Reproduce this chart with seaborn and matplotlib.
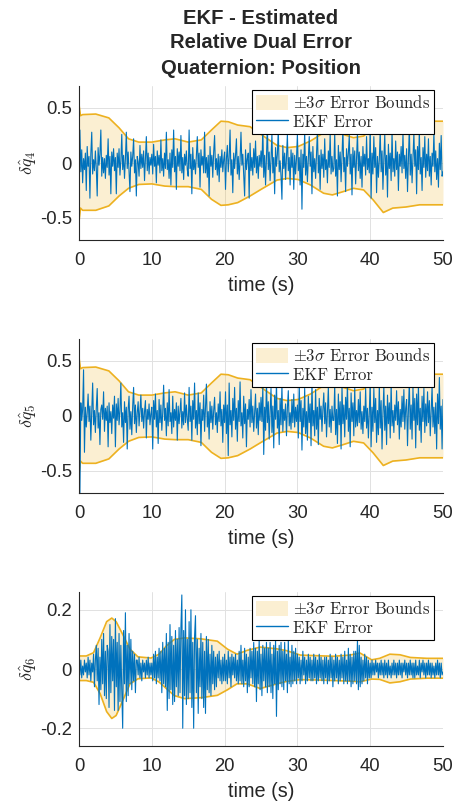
import numpy as np
import matplotlib
matplotlib.use("Agg")
import matplotlib.pyplot as plt
import seaborn as sns
from matplotlib.patches import Patch
from matplotlib.lines import Line2D

# ---------------- data ----------------
time_ticks = [0, 10, 20, 30, 40, 50]

# +/-3 sigma bounds for dq4 and dq5 (same covariance shape)
bound45_t = [0, 0.2, 0.5, 2.3, 4.1, 5.5, 6.8, 8.2, 10, 11.8, 13.2, 15, 16.8, 18.2,
             19.5, 20.5, 21.8, 23.5, 25, 27.2, 28.6, 30.1, 31.8, 33.6, 34.8, 36.3,
             37.7, 39.1, 40.4, 41.8, 43.1, 44.9, 46.8, 50]
bound45_upper = [0.53, 0.43, 0.44, 0.445, 0.41, 0.32, 0.22, 0.19, 0.19, 0.21, 0.22,
                 0.19, 0.21, 0.30, 0.38, 0.375, 0.345, 0.33, 0.26, 0.16, 0.14, 0.15,
                 0.20, 0.275, 0.29, 0.26, 0.23, 0.245, 0.335, 0.45, 0.41, 0.40, 0.38, 0.38]
bound45_lower = [-0.53, -0.41, -0.43, -0.43, -0.39, -0.30, -0.23, -0.195, -0.19, -0.21,
                 -0.215, -0.215, -0.24, -0.33, -0.385, -0.38, -0.36, -0.30, -0.24,
                 -0.155, -0.14, -0.15, -0.20, -0.275, -0.29, -0.26, -0.23, -0.245,
                 -0.335, -0.45, -0.41, -0.40, -0.38, -0.38]

# +/-3 sigma bounds for dq6
bound6_t = [0, 1, 2, 2.9, 3.8, 4.5, 5.1, 6, 7, 8.1, 9.9, 11, 12, 13.1, 14.5, 16.7,
            19, 20.4, 21.7, 23.1, 24.9, 27.2, 28.5, 30.4, 32.6, 35, 37.2, 38.6, 40.2,
            41.3, 42.7, 44.1, 45.5, 47.8, 50]
bound6_upper = [0.044, 0.044, 0.055, 0.105, 0.16, 0.172, 0.16, 0.117, 0.067, 0.041,
                0.037, 0.05, 0.078, 0.10, 0.105, 0.102, 0.094, 0.067, 0.05, 0.063,
                0.074, 0.068, 0.062, 0.047, 0.045, 0.043, 0.047, 0.054, 0.031, 0.036,
                0.05, 0.048, 0.039, 0.036, 0.036]
bound6_lower = [-0.039, -0.039, -0.045, -0.083, -0.144, -0.167, -0.157, -0.107, -0.05,
                -0.033, -0.03, -0.044, -0.066, -0.09, -0.10, -0.097, -0.089, -0.07,
                -0.05, -0.05, -0.066, -0.05, -0.042, -0.036, -0.037, -0.039, -0.041,
                -0.043, -0.034, -0.035, -0.047, -0.043, -0.034, -0.031, -0.031]

# EKF error, in units of 0.01, evenly sampled over 0..50 s (40 samples per 5 s row)
err_q4_x100 = [
    3, 30, -8, 12, -18, 4, -6, 9, -25, 15, -3, 6, -32, 8, 28, -10, 3, -7, 11, -5, -30, 14, -2, 8, 30, -12, 5, -9, 4, -14, 7, -4, 22, -11, 6, -28, 10, -3, 13, -7,
    5, -28, 9, -4, 13, -11, 2, 26, -6, 7, -14, 4, 28, -5, 10, -8, -26, 10, -3, 6, 22, -9, 3, -30, 6, 1, -12, 16, -5, 8, -4, 11, -16, 3, 24, -7, 9, -10, 5, -2,
    8, -10, 17, -3, 6, -18, 11, -2, 7, -9, 21, -7, 4, -12, 9, -5, 28, -6, 3, -14, 9, -20, 12, -4, 30, -8, 6, -24, 13, -3, 10, -7, 25, -9, 5, -15, 8, -2, 11, -6,
    -12, 30, -5, 8, -28, 14, -6, 3, -10, 7, 24, -4, 9, -22, 12, -2, 6, -9, 28, -9, 5, -13, 7, -30, 15, -3, 7, -13, 10, 25, -6, 4, -11, 8, -17, 6, -4, 12, -8, 3,
    10, -24, 4, 16, -8, 5, 30, -11, 3, -27, 9, -5, 7, 22, -10, 6, -15, 3, 28, -2, 8, -12, -30, 12, -6, 4, 9, -32, 18, -7, 5, -11, 13, -4, 20, -9, 6, -14, 7, -3,
    11, -4, 33, -13, 7, -20, 5, 35, -6, 10, -16, 3, 27, -9, 5, -28, 14, -3, 8, 31, -8, 2, -12, -33, 16, -5, 9, -15, 6, 26, -7, 5, -20, 12, -4, 9, -24, 7, -10, 4,
    26, -7, 5, -20, 12, -42, 8, -4, 29, -11, 6, -17, 4, 24, -3, 10, -28, 15, -8, 4, -14, 9, 30, -9, 7, -24, 12, -5, 8, -13, 22, -6, 3, -18, 11, -4, 27, -10, 6, -8,
    -5, 27, -12, 3, -30, 16, -6, 10, -17, 6, 32, -8, 5, -26, 13, -3, 9, 25, -10, 8, -29, 14, -4, 11, -19, 5, 28, -7, 10, -14, 6, -22, 15, -3, 8, -11, 24, -6, 4, -9,
    35, -32, 9, -10, 24, -4, 14, -27, 6, -13, 3, 30, -8, 11, -24, 4, 26, -11, 7, -31, 17, -5, 9, -16, 29, -8, 4, -12, 20, -6, 10, -25, 8, -3, 15, -9, 28, -5, 7, -14,
    13, -26, 5, 33, -11, 8, -18, 4, 27, -3, 12, -28, 15, -6, 30, -10, 5, -25, 14, -4, 24, -13, 8, -7, 22, -12, 6, -20, 9, -3, 28, -8, 11, -15, 4, -22, 18, -6, 25, -12,
    -8]

err_q5_x100 = [
    70, -70, 12, -4, 6, 42, -33, 8, -10, 3, 20, -5, 9, -22, 4, 30, -8, 5, -15, 7, 25, -11, 3, -26, 6, 10, -3, 22, -14, 7, -4, 9, -28, 12, -6, 4, -16, 10, -2, 18,
    -28, 11, -4, 16, -8, 5, 30, -10, 3, -24, 13, -6, 8, -30, 6, 18, -12, 4, -17, 9, 26, -7, 10, -15, 3, 13, -9, 5, 19, -5, 7, -11, 4, 14, -20, 6, -3, 11, -8, 2,
    8, -30, 14, -3, 20, -10, 5, -25, 15, -6, 10, -13, 3, 28, -4, 7, -18, 12, -9, 24, -5, 3, -16, 18, -10, 6, -4, 12, -22, 9, -7, 5, 16, -11, 4, -8, 21, -6, 10, -3,
    -13, 26, -5, 9, -22, 14, -3, 30, -11, 5, -17, 21, -7, 12, -27, 6, -4, 19, -14, 8, 29, -10, 4, -21, 13, -6, 9, -12, 5, 17, -8, 3, -15, 11, -5, 22, -9, 6, -24, 10,
    -6, 22, -16, 10, -36, 30, -8, 5, -19, 16, -4, 26, -12, 7, -23, 14, -5, 31, -9, 3, -20, 18, -7, 11, -28, 6, -3, 15, -10, 24, -6, 9, -14, 4, 20, -11, 7, -17, 12, -4,
    17, -5, 27, -35, 8, -13, 32, -6, 13, -21, 4, 25, -15, 9, -29, 19, -3, 30, -11, 5, -26, 16, -8, 28, -14, 6, -4, 11, -18, 7, 23, -9, 3, -12, 15, -6, 20, -10, 8, -5,
    10, -20, 29, -5, 14, -31, 7, -10, 25, -16, 4, -22, 18, -6, 11, -27, 31, -9, 5, -18, 24, -12, 8, -26, 16, -3, 9, -14, 6, 21, -7, 12, -19, 4, 26, -10, 6, -15, 9, -4,
    -4, 28, -17, 6, -25, 20, -8, 13, -30, 27, -7, 10, -19, 17, -3, 30, -14, 7, -28, 21, -5, 12, -18, 26, -10, 5, -9, 15, -6, 22, -12, 4, -16, 9, -5, 25, -11, 7, -20, 3,
    32, -28, 8, -14, 25, -6, 16, -24, 5, -17, 29, -11, 14, -30, 3, 27, -13, 9, -26, 19, -7, 12, -20, 30, -9, 5, -15, 10, -4, 23, -8, 13, -21, 6, -10, 18, -5, 24, -12, 7,
    15, -27, 6, 31, -12, 10, -21, 26, -4, 16, -29, 20, -8, 28, -13, 7, -24, 18, -5, 25, -15, 11, -9, 22, -6, 14, -18, 5, 27, -10, 8, -16, 12, -30, 20, -7, 35, -12, 9, -30,
    15]

err_q6_x100 = [
    4, -2, 3, -3, 1, -2, 3, -1,   2, -3, 4, -2, 3, -4, 2, -1,
    5, -6, 3, 8, -4, 7, -12, 4,   -7, 10, -5, 12, -9, 6, -10, 8,
    6, -13, 15, -8, 11, -4, 10, -14,   17, -6, 9, -14, 12, -11, 8, -7,
    -20, 13, -5, 19, -11, 8, -9, 12,   -5, 10, -7, 6, -4, 5, -8, 3,
    3, -2, 4, -3, 2, -4, 3, -1,   2, -3, 3, -2, 4, -3, 2, -2,
    2, -4, 5, -3, 6, -5, 4, -3,   7, -4, 6, -8, 9, -5, 7, -6,
    12, -14, 9, -10, 15, -7, 11, -12,   8, -11, 13, -6, 10, -9, 14, -8,
    14, 25, -20, 13, -9, 20, -12, 10,   -10, 16, -8, 20, -13, 9, -20, 11,
    18, -8, 10, -15, 7, -6, 12, -10,   9, -13, 6, -15, 11, -7, 10, -8,
    5, -9, 8, -5, 6, -7, 4, -6,   5, -3, 6, -4, 3, -5, 4, -4,
    5, -4, 3, -5, 6, -3, 4, -6,   5, -2, 4, -3, 5, -4, 3, -5,
    6, -4, 8, -5, 3, -6, 7, -4,   5, -8, 4, -6, 7, -3, 6, -5,
    9, -6, 7, -11, 6, -5, 10, -7,   5, -9, 8, -4, 7, -6, 9, -8,
    7, -6, 9, -8, 5, -10, 8, -5,   10, -16, 6, -7, 8, -5, 9, -6,
    6, -7, 9, -4, 5, -8, 10, -5,   4, -6, 8, -5, 6, -4, 7, -5,
    5, -3, 4, -5, 3, -4, 6, -2,   4, -5, 3, -4, 5, -3, 4, -4,
    3, -4, 5, -3, 4, -5, 3, -4,   5, -3, 4, -4, 3, -5, 4, -3,
    4, -5, 3, -4, 5, -3, 4, -6,   3, -4, 5, -3, 4, -5, 3, -4,
    5, -3, 4, -5, 6, -4, 3, -5,   7, -4, 5, -6, 4, -5, 6, -4,
    6, -5, 10, -7, 8, -6, 4, -5,   3, -4, 5, -3, 4, -5, 3, -3,
    2, -3, 3, -2, 2, -2, 3, -1,   2, -3, 2, -2, 3, -2, 2, -3,
    3, -2, 2, -3, 3, -2, 1, -3,   2, -2, 3, -2, 2, -3, 2, -2,
    3, -2, 2, -3, 2, -1, 3, -2,   2, -3, 2, -2, 3, -2, 2, -3,
    2, -3, 3, -2, 1, -2, 3, -3,   2, -1, 3, -2, 2, -3, 2, -2,
    3, -2, 2, -3, 2, -2, 1, -3,   2, -2, 3, -2, 2, -3, 2, -2,
    -1]

title_text = "EKF - Estimated\nRelative Dual Error\nQuaternion: Position"
ylabels = [r"$\delta\hat{q}_4$", r"$\delta\hat{q}_5$", r"$\delta\hat{q}_6$"]
legend_labels = [r"$\pm3\sigma$ Error Bounds", "EKF Error"]

# ---------------- style ----------------
BLUE = "#0072BD"
ORANGE = "#EDB120"
DARK = "#262626"

sns.set_theme(style="white")
plt.rcParams["font.family"] = ["Liberation Sans", "DejaVu Sans"]
plt.rcParams["mathtext.fontset"] = "cm"
plt.rcParams["axes.unicode_minus"] = False

fig = plt.figure(figsize=(4.56, 8.02), dpi=100)

left, width, height = 79 / 456, 364 / 456, 154 / 802
panel_tops = [86, 339, 592]

panels = [
    (bound45_t, bound45_upper, bound45_lower, err_q4_x100, (-0.7, 0.7), [-0.5, 0, 0.5], ["-0.5", "0", "0.5"]),
    (bound45_t, bound45_upper, bound45_lower, err_q5_x100, (-0.7, 0.7), [-0.5, 0, 0.5], ["-0.5", "0", "0.5"]),
    (bound6_t, bound6_upper, bound6_lower, err_q6_x100, (-0.26, 0.26), [-0.2, 0, 0.2], ["-0.2", "0", "0.2"]),
]

for i, (bt, bu, bl, err_x100, ylim, yt, ytl) in enumerate(panels):
    err = np.asarray(err_x100, dtype=float) / 100.0
    t = np.linspace(0, 50, len(err))
    top = panel_tops[i]
    ax = fig.add_axes([left, 1 - (top + 154) / 802, width, height])
    ax.set_axisbelow(True)
    ax.grid(True, color="#e1e1e1", lw=0.7)
    ax.fill_between(bt, bl, bu, color=ORANGE, alpha=0.2, lw=0)
    sns.lineplot(x=bt, y=bu, color=ORANGE, lw=1.2, ax=ax)
    sns.lineplot(x=bt, y=bl, color=ORANGE, lw=1.2, ax=ax)
    sns.lineplot(x=t, y=err, color=BLUE, lw=0.8, ax=ax)

    ax.set_xlim(0, 50)
    ax.set_ylim(*ylim)
    ax.set_xticks(time_ticks)
    ax.set_xticklabels([str(v) for v in time_ticks])
    ax.set_yticks(yt)
    ax.set_yticklabels(ytl)
    for s in ["top", "right"]:
        ax.spines[s].set_visible(False)
    for s in ["left", "bottom"]:
        ax.spines[s].set_color(DARK)
        ax.spines[s].set_linewidth(0.8)
    ax.tick_params(axis="both", direction="in", length=3, width=0.6,
                   colors=DARK, labelsize=13.3)
    ax.tick_params(axis="x", pad=8.5)
    ax.tick_params(axis="y", pad=5)
    ax.set_xlabel("time (s)", fontsize=14.3, color=DARK, labelpad=5)
    ax.set_ylabel(ylabels[i], fontsize=13, color=DARK, labelpad=0.5)

    handles = [Patch(facecolor=ORANGE, alpha=0.2, edgecolor="none"),
               Line2D([0], [0], color=BLUE, lw=1.0)]
    leg = ax.legend(handles, legend_labels, loc="upper right",
                    bbox_to_anchor=(1 - 9 / 364, 1 - 4 / 154), borderaxespad=0,
                    prop={"family": "cmr10", "size": 12}, frameon=True,
                    fancybox=False, framealpha=1, edgecolor="black",
                    handlelength=1.9, handleheight=1.05, handletextpad=0.3,
                    borderpad=0.25, labelspacing=0.12)
    leg.get_frame().set_linewidth(0.8)

    if i == 0:
        ax.set_title(title_text, fontsize=14.6, fontweight="bold",
                     linespacing=1.4, pad=9)

fig.savefig("out.png", dpi=100)
